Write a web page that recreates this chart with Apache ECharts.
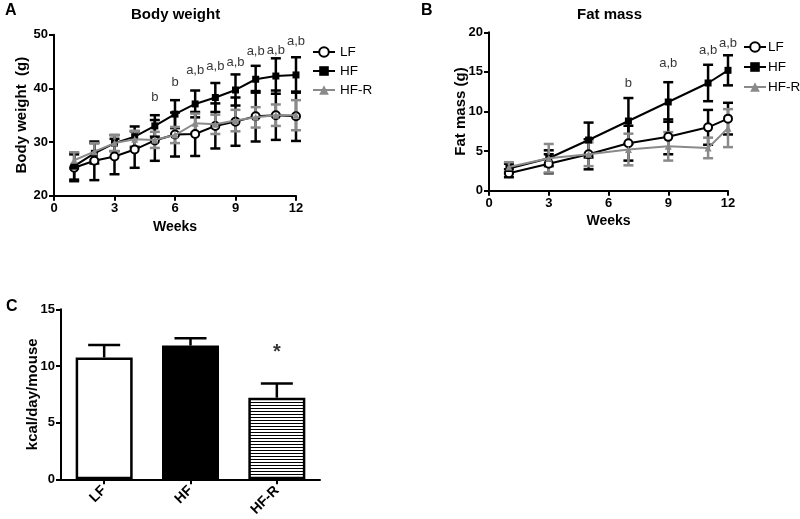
<!DOCTYPE html>
<html>
<head>
<meta charset="utf-8">
<script src="https://cdn.jsdelivr.net/npm/echarts@6/dist/echarts.min.js"></script>
<style>
html,body{margin:0;padding:0;background:#fff;}
#chart{width:800px;height:519px;}
</style>
</head>
<body>
<div id="chart"></div>
<script>
// ---- Panel A: Body weight ----
var weeksA = [1,2,3,4,5,6,7,8,9,10,11,12];
var lfA     = [25.2,26.5,27.3,28.6,30.3,31.4,31.5,33.0,33.8,34.8,35.0,34.8];
var lfAErr  = [2.5,3.6,3.3,3.4,3.8,4.1,4.1,4.2,4.5,4.7,4.6,4.6];
var hfA     = [25.5,27.9,29.8,31.0,33.0,35.2,37.1,38.3,39.7,41.7,42.3,42.5];
var hfAErr  = [2.5,1.9,1.5,1.9,2.0,2.6,2.5,2.7,2.9,2.5,3.3,3.3];
var hfrA    = [26.6,28.2,29.8,30.5,30.4,31.3,33.5,33.3,34.0,34.6,35.0,35.0];
var hfrAErr = [1.5,1.6,1.5,1.6,1.5,1.5,1.8,1.8,2.0,1.9,2.0,2.8];
var annAWeeks  = [5,6,7,8,9,10,11,12];
var annAY      = [38.4,41.2,43.3,44.0,44.8,46.9,47.1,48.7];
var annALabels = ['b','b','a,b','a,b','a,b','a,b','a,b','a,b'];
var yTicksA = [20,30,40,50];
var xTicks = [0,3,6,9,12];

// ---- Panel B: Fat mass ----
var weeksB = [1,3,5,7,9,11,12];
var lfB     = [2.2,3.4,4.6,6.0,6.8,8.0,9.1];
var lfBErr  = [0.5,1.2,1.9,2.2,2.2,2.2,2.0];
var hfB     = [2.8,4.1,6.4,8.8,11.2,13.6,15.2];
var hfBErr  = [0.6,1.0,2.2,2.9,2.5,2.3,1.9];
var hfrB    = [3.0,4.1,4.6,5.2,5.6,5.4,7.9];
var hfrBErr = [0.6,1.8,1.5,2.0,1.8,1.3,2.4];
var annBWeeks  = [7,9,11,12];
var annBY      = [13.6,16.1,17.7,18.6];
var annBLabels = ['b','a,b','a,b','a,b'];
var yTicksB = [0,5,10,15,20];

// ---- Panel C: energy intake ----
var catsC = ['LF','HF','HF-R'];
var valsC = [10.75,11.8,7.2];
var errC  = [1.1,0.65,1.25];
var starC = [{cat:'HF-R', y:11.2, text:'*'}];
var yTicksC = [0,5,10,15];

var FONT = '"Liberation Sans", Arial, sans-serif';
var GREY = '#8a8a8a';

// stripe pattern for HF-R bar
var pc = document.createElement('canvas');
pc.width = 6; pc.height = 3;
var pctx = pc.getContext('2d');
pctx.fillStyle = '#fff'; pctx.fillRect(0,0,6,3);
pctx.fillStyle = '#000'; pctx.fillRect(0,0,6,1);

function zip3(x, y, e){ return x.map(function(v,i){ return [v, y[i], e[i]]; }); }
function zip2(x, y){ return x.map(function(v,i){ return [v, y[i]]; }); }

function errSeries(idx, data, color, lw, capW, z){
  return {
    type:'custom', xAxisIndex:idx, yAxisIndex:idx, z:z, silent:true,
    data:data,
    encode:{x:0, y:1},
    renderItem:function(params, api){
      var x = api.value(0), m = api.value(1), e = api.value(2);
      var t = api.coord([x, m+e]), b = api.coord([x, m-e]);
      var h = capW/2;
      var st = {stroke:color, lineWidth:lw};
      return {type:'group', children:[
        {type:'line', shape:{x1:t[0],y1:t[1],x2:b[0],y2:b[1]}, style:st},
        {type:'line', shape:{x1:t[0]-h,y1:t[1],x2:t[0]+h,y2:t[1]}, style:st},
        {type:'line', shape:{x1:b[0]-h,y1:b[1],x2:b[0]+h,y2:b[1]}, style:st}
      ]};
    }
  };
}

function lineSeries(idx, name, data, color, symbol, size, z){
  return {
    type:'line', name:name, xAxisIndex:idx, yAxisIndex:idx, z:z,
    data:data, symbol:symbol, symbolSize:size, showSymbol:true,
    lineStyle:{color:color, width:2},
    itemStyle:{color:color, borderColor:color, borderWidth: symbol==='emptyCircle'?2.5:0},
    animation:false
  };
}

function annSeries(idx, data){
  return {
    type:'scatter', xAxisIndex:idx, yAxisIndex:idx, z:20, silent:true,
    symbolSize:1, itemStyle:{color:'rgba(0,0,0,0)'},
    data:data,
    label:{show:true, position:'inside', color:'#000', fontFamily:FONT, fontSize:13,
      formatter:function(p){ return p.data[2]; }}
  };
}

var axisCommon = {
  axisLine:{show:true, onZero:false, lineStyle:{color:'#000', width:2}},
  axisTick:{show:true, length:5, lineStyle:{color:'#000', width:2}},
  axisLabel:{color:'#000', fontWeight:'bold', fontSize:13, fontFamily:FONT, margin:6},
  splitLine:{show:false},
  nameMoveOverlap:false,
  nameTextStyle:{color:'#000', fontWeight:'bold', fontSize:14, fontFamily:FONT}
};
function ax(extra){ return Object.assign({}, JSON.parse(JSON.stringify(axisCommon)), extra); }
var yNameStyle = {color:'#000', fontWeight:'bold', fontSize:15, fontFamily:FONT};

var chart = echarts.init(document.getElementById('chart'), null, {renderer:'canvas'});
var option = {
  animation:false,
  backgroundColor:'#fff',
  title:[
    {text:'A', left:0, top:-2, textStyle:{fontSize:16, fontWeight:'bold', color:'#000', fontFamily:FONT}},
    {text:'B', left:416, top:-2, textStyle:{fontSize:16, fontWeight:'bold', color:'#000', fontFamily:FONT}},
    {text:'C', left:1, top:294, textStyle:{fontSize:16, fontWeight:'bold', color:'#000', fontFamily:FONT}},
    {text:'Body weight', left:126, top:2, textStyle:{fontSize:15, fontWeight:'bold', color:'#000', fontFamily:FONT}},
    {text:'Fat mass', left:572, top:2, textStyle:{fontSize:15, fontWeight:'bold', color:'#000', fontFamily:FONT}}
  ],
  legend:[
    {data:['LF','HF','HF-R'], orient:'vertical', left:307, top:40, itemWidth:22, itemHeight:12, itemGap:5,
     textStyle:{fontSize:13.5, color:'#000', fontFamily:FONT, padding:[0,0,0,0]}, selectedMode:false},
    {data:['LF','HF','HF-R'], orient:'vertical', left:738, top:35, itemWidth:22, itemHeight:12, itemGap:6,
     textStyle:{fontSize:13.5, color:'#000', fontFamily:FONT, padding:[0,0,0,-3]}, selectedMode:false}
  ],
  grid:[
    {left:54, top:34.7, width:242, height:161},
    {left:489, top:32.3, width:239, height:158.4},
    {left:61, top:309.3, width:259, height:170.7}
  ],
  xAxis:[
    ax({type:'value', gridIndex:0, min:0, max:12, interval:3, name:'Weeks', nameLocation:'middle', nameGap:24}),
    ax({type:'value', gridIndex:1, min:0, max:12, interval:3, name:'Weeks', nameLocation:'middle', nameGap:23}),
    ax({type:'category', gridIndex:2, data:catsC, axisTick:{show:true, alignWithLabel:true, length:5, lineStyle:{color:'#000', width:2}},
        axisLabel:{color:'#000', fontWeight:'bold', fontSize:14, fontFamily:FONT, rotate:45, margin:9}})
  ],
  yAxis:[
    ax({type:'value', gridIndex:0, min:20, max:50, interval:10, name:'Body weight  (g)', nameLocation:'middle', nameGap:25, nameTextStyle:yNameStyle}),
    ax({type:'value', gridIndex:1, min:0, max:20, interval:5, name:'Fat mass (g)', nameLocation:'middle', nameGap:21, nameTextStyle:yNameStyle}),
    ax({type:'value', gridIndex:2, min:0, max:15, interval:5, name:'kcal/day/mouse', nameLocation:'middle', nameGap:21, nameTextStyle:yNameStyle})
  ],
  series:[
    // Panel A
    errSeries(0, zip3(weeksA, lfA, lfAErr), '#000', 2.5, 10, 2),
    errSeries(0, zip3(weeksA, hfA, hfAErr), '#000', 2.5, 10, 2),
    errSeries(0, zip3(weeksA, hfrA, hfrAErr), GREY, 2.5, 10, 3),
    lineSeries(0, 'LF', zip2(weeksA, lfA), '#000', 'emptyCircle', 8, 4),
    lineSeries(0, 'HF', zip2(weeksA, hfA), '#000', 'rect', 7, 4),
    lineSeries(0, 'HF-R', zip2(weeksA, hfrA), GREY, 'triangle', 7, 5),
    annSeries(0, annAWeeks.map(function(w,i){ return [w, annAY[i], annALabels[i]]; })),
    // Panel B
    errSeries(1, zip3(weeksB, lfB, lfBErr), '#000', 2.5, 10, 2),
    errSeries(1, zip3(weeksB, hfB, hfBErr), '#000', 2.5, 10, 2),
    errSeries(1, zip3(weeksB, hfrB, hfrBErr), GREY, 2.5, 10, 3),
    lineSeries(1, 'LF', zip2(weeksB, lfB), '#000', 'emptyCircle', 8, 4),
    lineSeries(1, 'HF', zip2(weeksB, hfB), '#000', 'rect', 7, 4),
    lineSeries(1, 'HF-R', zip2(weeksB, hfrB), GREY, 'triangle', 7, 5),
    annSeries(1, annBWeeks.map(function(w,i){ return [w, annBY[i], annBLabels[i]]; })),
    // Panel C
    {
      type:'custom', xAxisIndex:2, yAxisIndex:2, z:1, silent:true,
      data: catsC.map(function(c,i){ return [i, valsC[i], errC[i]]; }),
      renderItem:function(params, api){
        var x = api.value(0), m = api.value(1), e = api.value(2);
        var t = api.coord([x, m+e]), b = api.coord([x, m]);
        var st = {stroke:'#000', lineWidth:2.5};
        return {type:'group', children:[
          {type:'line', shape:{x1:t[0],y1:t[1],x2:b[0],y2:b[1]}, style:st},
          {type:'line', shape:{x1:t[0]-16,y1:t[1],x2:t[0]+16,y2:t[1]}, style:st}
        ]};
      }
    },
    {
      type:'bar', xAxisIndex:2, yAxisIndex:2, z:3, barWidth:57,
      data: valsC.map(function(v,i){
        var fill = i===0 ? '#fff' : (i===1 ? '#000' : {image:pc, repeat:'repeat'});
        return {value:v, itemStyle:{color:fill, borderColor:'#000', borderWidth:2.5}};
      })
    },
    {
      type:'scatter', xAxisIndex:2, yAxisIndex:2, z:20, silent:true,
      symbolSize:1, itemStyle:{color:'rgba(0,0,0,0)'},
      data: starC.map(function(s){ return [s.cat, s.y, s.text]; }),
      label:{show:true, position:'inside', color:'#000', fontFamily:FONT, fontSize:20, fontWeight:'bold',
        formatter:function(p){ return p.data[2]; }}
    }
  ]
};
chart.setOption(option);
</script>
</body>
</html>
